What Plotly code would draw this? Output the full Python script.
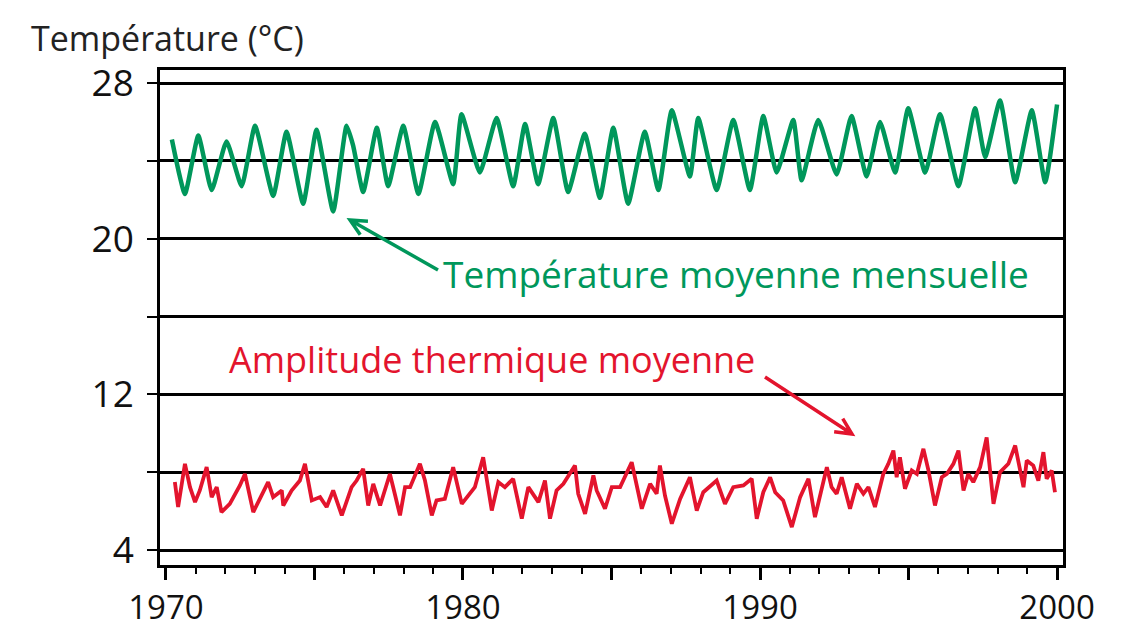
import plotly.graph_objects as go

# ---- data ----
green_years = [1970.2, 1970.64, 1971.09, 1971.54, 1972.04, 1972.55, 1973.0, 1973.61, 1974.06, 1974.62,
               1975.07, 1975.63, 1976.08, 1976.3, 1976.64, 1977.1, 1977.48, 1977.99, 1978.5, 1979.06,
               1979.67, 1979.95, 1980.57, 1981.13, 1981.69, 1982.09, 1982.53, 1983.04, 1983.54, 1984.1,
               1984.61, 1985.06, 1985.56, 1986.12, 1986.58, 1987.03, 1987.64, 1987.92, 1988.54, 1989.1,
               1989.66, 1990.11, 1990.56, 1991.12, 1991.4, 1991.96, 1992.58, 1993.08, 1993.59, 1994.04,
               1994.55, 1994.99, 1995.56, 1996.06, 1996.68, 1997.24, 1997.58, 1998.08, 1998.59, 1999.15,
               1999.6, 2000.0]
green_temp = [25.1, 22.3, 25.3, 22.5, 25.0, 22.7, 25.8, 22.2, 25.5, 21.8,
              25.6, 21.4, 25.8, 24.8, 22.4, 25.7, 22.7, 25.8, 22.3, 26.0,
              22.8, 26.4, 23.4, 26.2, 22.7, 25.9, 22.8, 26.2, 22.4, 25.4,
              22.1, 25.7, 21.8, 25.5, 22.5, 26.6, 23.2, 26.2, 22.5, 26.1,
              22.5, 26.3, 23.4, 26.1, 23.0, 26.1, 23.3, 26.3, 23.2, 26.0,
              23.4, 26.7, 23.4, 26.4, 22.7, 26.7, 24.2, 27.1, 22.9, 26.6,
              22.9, 26.9]

red_years = [1970.30, 1970.41, 1970.64, 1970.81, 1970.98, 1971.14, 1971.37, 1971.54, 1971.71, 1971.87,
             1972.15, 1972.49, 1972.66, 1972.94, 1973.16, 1973.44, 1973.61, 1973.90, 1973.95, 1974.23,
             1974.51, 1974.68, 1974.91, 1975.19, 1975.41, 1975.63, 1975.92, 1976.25, 1976.42, 1976.64,
             1976.81, 1976.98, 1977.21, 1977.54, 1977.65, 1977.88, 1978.05, 1978.22, 1978.55, 1978.72,
             1978.95, 1979.11, 1979.39, 1979.67, 1979.96,
             1980.40, 1980.68, 1980.97, 1981.19, 1981.41, 1981.69, 1981.98, 1982.20, 1982.37, 1982.54,
             1982.76, 1982.93, 1983.15, 1983.38, 1983.77, 1983.88, 1984.11, 1984.39, 1984.50, 1984.78,
             1985.01, 1985.29, 1985.68, 1986.02, 1986.30, 1986.52, 1986.63, 1986.80, 1987.03, 1987.31,
             1987.64, 1987.87, 1988.09, 1988.54, 1988.82, 1989.10, 1989.44, 1989.72, 1989.89, 1990.11,
             1990.34, 1990.51, 1990.78, 1991.07, 1991.35, 1991.63, 1991.85, 1992.25, 1992.41, 1992.58,
             1992.75, 1993.03, 1993.26, 1993.48, 1993.65, 1993.87, 1994.15, 1994.32, 1994.49, 1994.60,
             1994.71, 1994.88, 1995.11, 1995.28, 1995.50, 1995.67, 1995.89, 1996.12, 1996.29, 1996.51,
             1996.68, 1996.85, 1997.01, 1997.18, 1997.41, 1997.63, 1997.86, 1998.08, 1998.36, 1998.59,
             1998.87, 1998.98, 1999.20, 1999.37, 1999.54, 1999.65, 1999.82, 1999.93]
red_amp = [7.49, 6.21, 8.43, 7.23, 6.46, 7.06, 8.26, 6.72, 7.23, 5.95,
           6.37, 7.32, 7.91, 5.95, 6.63, 7.49, 6.72, 7.06, 6.29, 7.06,
           7.57, 8.43, 6.55, 6.72, 6.21, 7.06, 5.78, 7.23, 7.57, 8.17,
           6.29, 7.40, 6.29, 7.91, 7.23, 5.78, 7.23, 7.23, 8.43, 7.57,
           5.78, 6.55, 6.63, 8.26, 6.37,
           7.23, 8.77, 6.03, 7.49, 7.23, 7.66, 5.61, 7.23, 6.80, 6.46,
           7.57, 5.61, 7.06, 7.40, 8.34, 6.89, 5.86, 7.83, 7.06, 6.12,
           7.23, 7.23, 8.51, 6.12, 7.40, 6.89, 8.34, 6.80, 5.35, 6.63,
           7.74, 6.03, 6.97, 7.57, 6.37, 7.23, 7.32, 7.66, 5.61, 6.97,
           7.74, 6.97, 6.55, 5.18, 6.72, 7.66, 5.69, 8.26, 7.23, 6.89,
           7.74, 6.12, 7.40, 6.89, 7.23, 6.21, 7.91, 8.43, 9.11, 7.74,
           8.77, 7.15, 8.09, 7.91, 9.20, 8.09, 6.29, 7.74, 7.91, 8.43,
           9.11, 7.06, 7.91, 7.49, 8.26, 9.79, 6.37, 8.00, 8.43, 9.37,
           7.23, 8.60, 8.34, 7.57, 9.03, 7.66, 8.09, 6.97]

y_tick_vals = [4, 8, 12, 16, 20, 24, 28]
y_tick_text = ["4", "", "12", "", "20", "", "28"]
x_tick_vals = [1970, 1975, 1980, 1985, 1990, 1995, 2000]
x_tick_text = ["1970", "", "1980", "", "1990", "", "2000"]

GREEN = "#00975B"
RED = "#E3142D"
FONT = "Open Sans"

# ---- layout geometry (screen pixels; the page body adds an 8 px margin) ----
OFF = 8
SW, SH = 1126, 629
W, H = SW - OFF, SH - OFF
SL, SR, ST, SB = 160, 1063, 70, 565          # plot box on screen
L, T = SL - OFF, ST - OFF
R, B = OFF + W - SR, OFF + H - SB
X0, X1 = 1969.8, 2000.2
Y0, Y1 = 3.23, 28.67
PW, PH = SR - SL, SB - ST


def px2x(px):
    return X0 + (px - SL) / PW * (X1 - X0)


def px2y(py):
    return Y1 - (py - ST) / PH * (Y1 - Y0)


def arrow_path(tail, head, wing=18, spread=0.45):
    import math
    (tx, ty), (hx, hy) = tail, head
    ang = math.atan2(ty - hy, tx - hx)
    w1 = (hx + wing * math.cos(ang + spread), hy + wing * math.sin(ang + spread))
    w2 = (hx + wing * math.cos(ang - spread), hy + wing * math.sin(ang - spread))
    pts = lambda p: f"{px2x(p[0])},{px2y(p[1])}"
    return f"M {pts(tail)} L {pts(head)} M {pts(w1)} L {pts(head)} L {pts(w2)}"


fig = go.Figure()
fig.add_trace(go.Scatter(x=green_years, y=green_temp, mode="lines",
                         line=dict(color=GREEN, width=4.5, shape="spline", smoothing=0.45),
                         showlegend=False))
fig.add_trace(go.Scatter(x=red_years, y=red_amp, mode="lines",
                         line=dict(color=RED, width=3.8), showlegend=False))

fig.add_shape(type="path", xref="x", yref="y",
              path=arrow_path((438, 270), (350, 220)),
              line=dict(color=GREEN, width=3.5))
fig.add_shape(type="path", xref="x", yref="y",
              path=arrow_path((765, 377), (852, 434)),
              line=dict(color=RED, width=3.5))

fig.add_annotation(x=px2x(441), y=px2y(273), xref="x", yref="y", xanchor="left", yanchor="middle",
                   text="Température moyenne mensuelle", showarrow=False,
                   font=dict(family=FONT, size=37, color=GREEN))
fig.add_annotation(x=px2x(227), y=px2y(359), xref="x", yref="y", xanchor="left", yanchor="middle",
                   text="Amplitude thermique moyenne", showarrow=False,
                   font=dict(family=FONT, size=36, color=RED))
fig.add_annotation(x=(29 - SL) / PW, y=1 + (ST - 38) / PH, xref="paper", yref="paper",
                   xanchor="left", yanchor="middle", text="Température (°C)", showarrow=False,
                   font=dict(family=FONT, size=34, color="#222"))

fig.update_layout(
    width=W, height=H,
    margin=dict(l=L, r=R, t=T, b=B, pad=0, autoexpand=False),
    paper_bgcolor="white", plot_bgcolor="white",
    font=dict(family=FONT, color="#111"),
    xaxis=dict(range=[X0, X1], tickvals=x_tick_vals, ticktext=x_tick_text, automargin=False,
               ticks="outside", ticklen=12, tickwidth=3, tickcolor="black",
               showgrid=False, zeroline=False,
               showline=True, linewidth=2.5, linecolor="black", mirror=True,
               ticklabelstandoff=0,
               tickfont=dict(family=FONT, size=33, color="#111"),
               minor=dict(dtick=1, tick0=1970, ticks="outside", ticklen=6, tickwidth=1.5,
                          tickcolor="black", showgrid=False)),
    yaxis=dict(range=[Y0, Y1], tickvals=y_tick_vals, ticktext=y_tick_text, automargin=False,
               ticks="outside", ticklen=10, tickwidth=2, tickcolor="black",
               showgrid=True, gridcolor="black", gridwidth=2.5, zeroline=False,
               showline=True, linewidth=2.5, linecolor="black", mirror=True,
               ticklabelstandoff=6,
               tickfont=dict(family=FONT, size=37, color="#111")),
)

fig.write_html("out.html")
